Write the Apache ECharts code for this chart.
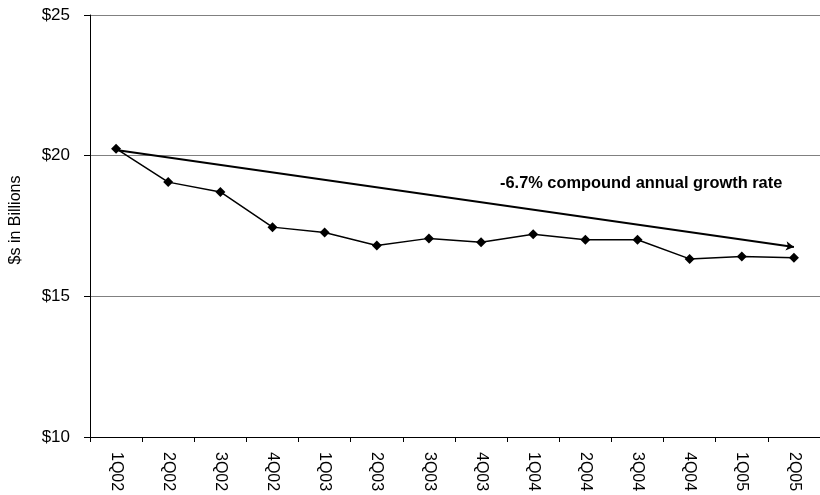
<!DOCTYPE html>
<html>
<head>
<meta charset="utf-8">
<script src="https://cdn.jsdelivr.net/npm/echarts@6/dist/echarts.min.js"></script>
<style>html,body{margin:0;padding:0;background:#fff;}#c{width:820px;height:495px;}</style>
</head>
<body>
<div id="c"></div>
<script>
const categories = ['1Q02','2Q02','3Q02','4Q02','1Q03','2Q03','3Q03','4Q03','1Q04','2Q04','3Q04','4Q04','1Q05','2Q05'];
const values = [20.25, 19.06, 18.71, 17.46, 17.27, 16.81, 17.06, 16.92, 17.21, 17.01, 17.01, 16.33, 16.42, 16.37];
const trendStart = ['1Q02', 20.2];
const trendEnd = ['2Q05', 16.75];
const annotation = '-6.7% compound annual growth rate';
const yTicks = { min: 10, max: 25, interval: 5 };

const chart = echarts.init(document.getElementById('c'));
const font = 'Arial, "Liberation Sans", sans-serif';
chart.setOption({
  animation: false,
  backgroundColor: '#fff',
  grid: { left: 88, top: 15, bottom: 58, width: 738 },
  xAxis: {
    type: 'category',
    data: categories,
    boundaryGap: true,
    axisLine: { lineStyle: { color: '#000', width: 1 } },
    axisTick: { show: true, length: 5, lineStyle: { color: '#000' } },
    axisLabel: { rotate: -90, margin: 15, color: '#000', fontSize: 16, fontFamily: font },
    splitLine: { show: false }
  },
  yAxis: {
    type: 'value',
    min: yTicks.min, max: yTicks.max, interval: yTicks.interval,
    name: '$s in Billions',
    nameLocation: 'middle',
    nameGap: 66,
    nameTextStyle: { color: '#000', fontSize: 16, fontFamily: font, padding: [0, 0, 0, 12] },
    axisLine: { show: true, lineStyle: { color: '#000', width: 1 } },
    axisTick: { show: true, length: 6, lineStyle: { color: '#000' } },
    axisLabel: { margin: 20, color: '#000', fontSize: 17, fontFamily: font, formatter: v => '$' + v },
    splitLine: { show: true, lineStyle: { color: '#808080', width: 1 } }
  },
  graphic: [{
    type: 'text', left: 500, top: 175,
    style: { text: annotation, font: 'bold 16.4px Arial, "Liberation Sans", sans-serif', fill: '#000' }
  }],
  series: [{
    type: 'line',
    data: values,
    symbol: 'diamond',
    symbolSize: 10,
    lineStyle: { color: '#000', width: 1.5 },
    itemStyle: { color: '#000' },
    markLine: {
      silent: true,
      symbol: ['none', 'arrow'],
      symbolSize: [7, 8],
      label: { show: false },
      lineStyle: { color: '#000', width: 2, type: 'solid' },
      data: [[{ coord: trendStart }, { coord: trendEnd }]]
    }
  }]
});
</script>
</body>
</html>
